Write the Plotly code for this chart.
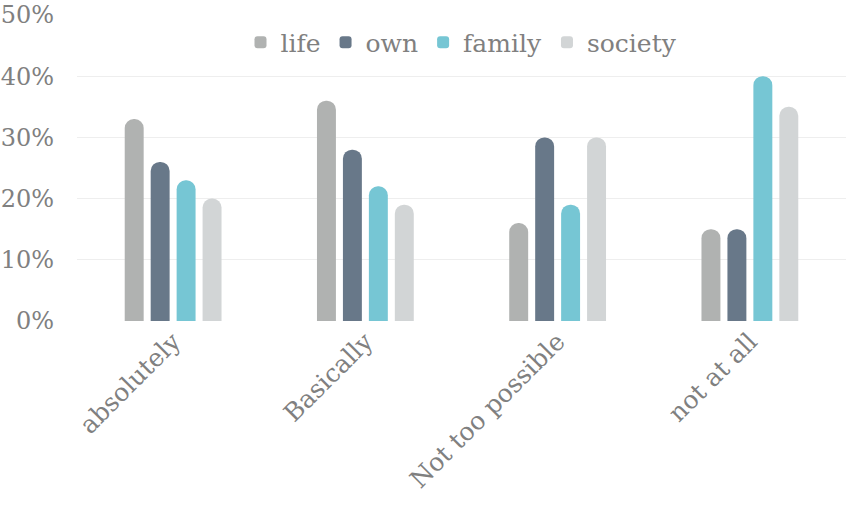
import plotly.graph_objects as go

# カテゴリと各系列の値（割合）
categories = ["absolutely", "Basically", "Not too possible", "not at all"]
life = [0.33, 0.36, 0.16, 0.15]
own = [0.26, 0.28, 0.30, 0.15]
family = [0.23, 0.22, 0.19, 0.40]
society = [0.20, 0.19, 0.30, 0.35]

series = [
    ("life", life, "#b0b2b1"),
    ("own", own, "#687889"),
    ("family", family, "#76c6d4"),
    ("society", society, "#d2d5d6"),
]

font_family = "DejaVu Serif"
text_color = "#808080"

fig = go.Figure()
for name, vals, color in series:
    fig.add_trace(go.Bar(
        x=categories,
        y=vals,
        name=name,
        marker=dict(color=color, line=dict(width=0), cornerradius=9),
    ))

fig.update_layout(
    width=851,
    height=514,
    barmode="group",
    bargap=0.46,
    bargroupgap=0.27,
    plot_bgcolor="white",
    paper_bgcolor="white",
    margin=dict(l=77, r=5, t=15, b=193),
    font=dict(family=font_family, size=24, color=text_color),
    legend=dict(
        orientation="h",
        x=0.5, xanchor="center",
        y=0.91, yanchor="middle",
        font=dict(family=font_family, size=25, color=text_color),
        bgcolor="rgba(0,0,0,0)",
        itemwidth=30,
    ),
    xaxis=dict(
        tickangle=-45,
        showgrid=False,
        showline=False,
        automargin=False,
        tickfont=dict(family=font_family, size=25, color=text_color),
    ),
    yaxis=dict(
        range=[0, 0.5],
        dtick=0.1,
        tickformat=".0%",
        showgrid=True,
        gridcolor="#eeeeee",
        gridwidth=1,
        zeroline=False,
        showline=False,
        automargin=False,
        ticklabeloverflow="allow",
        ticklabelstandoff=22,
        tickfont=dict(family=font_family, size=24, color=text_color),
    ),
)

# ページのbody余白を消して図を左上に揃える
fig.write_html(
    "out.html",
    config={"displayModeBar": False},
    post_script="document.body.style.margin='0';",
)
